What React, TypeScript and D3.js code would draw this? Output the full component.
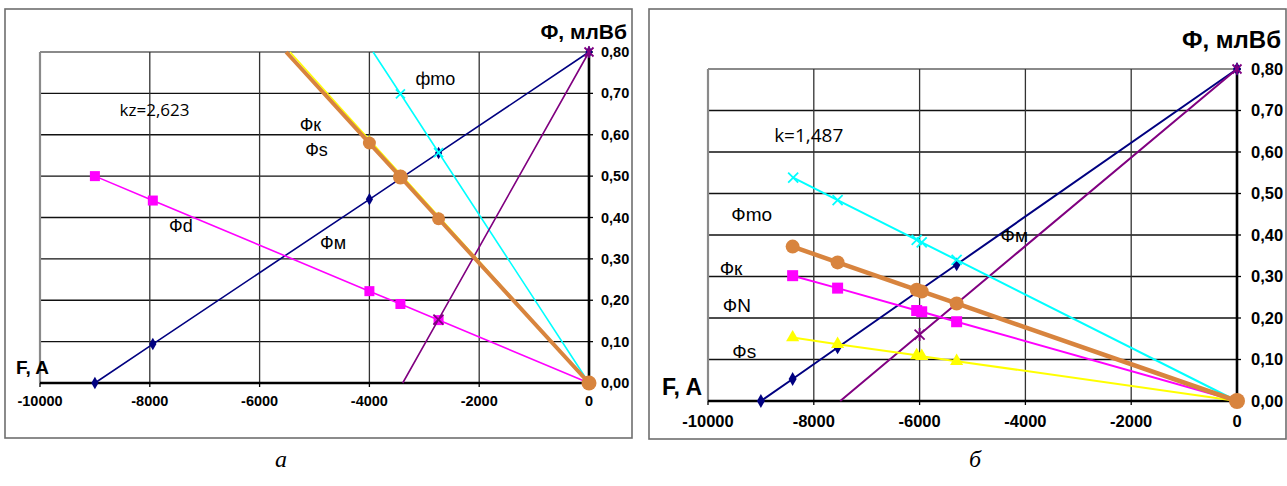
import React from "react";
import * as d3 from "d3";

type Pt = [number, number];

// Figure "а" (kz = 2,623): magnetizing force F, A  vs  flux Ф, mWb
const leftFm: Pt[] = [[-9000, 0], [-7945, 0.094], [-4000, 0.444], [-2740, 0.556], [0, 0.8]];
const leftMag: Pt[] = [[-3393, 0], [-2743, 0.153], [0, 0.8]];
const leftFmo: Pt[] = [[-3933, 0.8], [-3435, 0.699], [-2740, 0.557], [0, 0]];
const leftFd: Pt[] = [[-9000, 0.5], [-7945, 0.441], [-4000, 0.222], [-3435, 0.191], [-2740, 0.152], [0, 0]];
const leftFs: Pt[] = [[-5446, 0.8], [-4000, 0.588], [-3435, 0.505], [-2740, 0.403], [0, 0]];
const leftFk: Pt[] = [[-5517, 0.8], [-4000, 0.58], [-3435, 0.498], [-2740, 0.397], [0, 0]];

// Figure "б" (k = 1,487)
const rightFm: Pt[] = [[-9000, 0], [-8400, 0.053], [-7550, 0.129], [-6000, 0.267], [-5300, 0.329], [0, 0.8]];
const rightMag: Pt[] = [[-7500, 0], [-6000, 0.16], [-5300, 0.235], [0, 0.8]];
const rightFmo: Pt[] = [[-8390, 0.538], [-7550, 0.484], [-6055, 0.388], [-5960, 0.382], [-5300, 0.34], [0, 0]];
const rightFN: Pt[] = [[-8400, 0.302], [-7550, 0.272], [-6055, 0.218], [-5960, 0.215], [-5300, 0.191], [0, 0]];
const rightFs: Pt[] = [[-8400, 0.153], [-7550, 0.137], [-6055, 0.11], [-5960, 0.108], [-5300, 0.096], [0, 0]];
const rightFk: Pt[] = [[-8400, 0.372], [-7550, 0.334], [-6055, 0.268], [-5960, 0.264], [-5300, 0.235], [0, 0]];

const xTicks = [-10000, -8000, -6000, -4000, -2000, 0];
const yTicks = [0, 0.1, 0.2, 0.3, 0.4, 0.5, 0.6, 0.7, 0.8];
const yTitle = "Ф, млВб";
const xTitle = "F, A";

const NAVY = "#000080";
const PURPLE = "#800080";
const CYAN = "#00FFFF";
const MAGENTA = "#FF00FF";
const YELLOW = "#FFFF00";
const ORANGE = "#D8843E";

const SANS = "Liberation Sans, Arial, sans-serif";

type Marker = "diamond" | "square" | "circle" | "triangle" | "x" | "star" | "none";

interface Series {
  data: Pt[];
  color: string;
  width: number;
  marker: Marker;
  size: number;
  skipFirst?: boolean;
  special?: { index: number; marker: Marker; color: string; size: number }[];
}

interface Label {
  text: string;
  x: number; // data coords
  y: number;
  size: number;
  family?: string;
}

interface ChartProps {
  id: string;
  box: [number, number, number, number];
  plot: [number, number, number, number];
  series: Series[];
  labels: Label[];
  tickSize: number;
  yTickOffset: number;
  xTickOffset: number;
  yTitleSize: number;
  xTitleSize: number;
  yTitlePos: [number, number];
  xTitlePos: [number, number];
}

const fmtY = (v: number) => v.toFixed(2).replace(".", ",");

function MarkerShape({ m, x, y, color, size }: { m: Marker; x: number; y: number; color: string; size: number }) {
  if (m === "none") return null;
  if (m === "circle") return <circle cx={x} cy={y} r={size} fill={color} />;
  if (m === "square")
    return <rect x={x - size / 2} y={y - size / 2} width={size} height={size} fill={color} />;
  if (m === "diamond" || m === "triangle") {
    const sym = d3.symbol().type(m === "diamond" ? d3.symbolDiamond : d3.symbolTriangle).size(size)();
    return <path d={sym || ""} transform={`translate(${x},${y})`} fill={color} />;
  }
  const h = size;
  const cross = `M${x - h},${y - h}L${x + h},${y + h}M${x - h},${y + h}L${x + h},${y - h}`;
  const d = m === "star" ? `${cross}M${x},${y - h * 1.3}L${x},${y + h * 1.3}` : cross;
  return <path d={d} stroke={color} strokeWidth={1.8} fill="none" />;
}

function Chart(p: ChartProps) {
  const [bx0, by0, bx1, by1] = p.box;
  const [px0, py0, px1, py1] = p.plot;
  const x = d3.scaleLinear().domain([-10000, 0]).range([px0, px1]);
  const y = d3.scaleLinear().domain([0, 0.8]).range([py1, py0]);
  const line = d3.line<Pt>().x((d) => x(d[0])).y((d) => y(d[1]));
  const clipId = `clip-${p.id}`;

  return (
    <g>
      <rect x={bx0} y={by0} width={bx1 - bx0} height={by1 - by0} fill="#fff" stroke="#6e6e6e" strokeWidth={1.6} />
      <defs>
        <clipPath id={clipId}>
          <rect x={px0 - 12} y={py0 - 12} width={px1 - px0 + 24} height={py1 - py0 + 24} />
        </clipPath>
      </defs>
      {/* grid */}
      {yTicks.map((t) => (
        <line key={`h${t}`} x1={px0} x2={px1} y1={y(t)} y2={y(t)} stroke={t === 0.8 ? "#8a8a8a" : "#111"} strokeWidth={t === 0.8 ? 2.2 : 1.3} />
      ))}
      {xTicks.map((t) => (
        <line key={`v${t}`} x1={x(t)} x2={x(t)} y1={py0} y2={py1} stroke={t === -10000 ? "#8a8a8a" : "#333"} strokeWidth={t === -10000 ? 2.2 : 1.3} />
      ))}
      {/* axes at F = 0 and Ф = 0 */}
      <line x1={x(0)} x2={x(0)} y1={py0} y2={py1 + 1} stroke="#000" strokeWidth={2.6} />
      <line x1={px0} x2={px1} y1={y(0)} y2={y(0)} stroke="#000" strokeWidth={2.6} />
      {xTicks.map((t) => (
        <line key={`xt${t}`} x1={x(t)} x2={x(t)} y1={y(0)} y2={y(0) + 4} stroke="#000" strokeWidth={1.3} />
      ))}
      {yTicks.map((t) => (
        <line key={`yt${t}`} x1={x(0)} x2={x(0) + 4} y1={y(t)} y2={y(t)} stroke="#000" strokeWidth={1.3} />
      ))}
      {/* series */}
      <g clipPath={`url(#${clipId})`}>
        {p.series.map((s, i) => (
          <g key={i}>
            <path d={line(s.data) || ""} fill="none" stroke={s.color} strokeWidth={s.width} strokeLinejoin="round" />
            {s.data.map((d, j) => {
              if (s.skipFirst && j === 0) return null;
              const sp = s.special?.find((q) => q.index === j);
              if (sp) return <MarkerShape key={j} m={sp.marker} x={x(d[0])} y={y(d[1])} color={sp.color} size={sp.size} />;
              return <MarkerShape key={j} m={s.marker} x={x(d[0])} y={y(d[1])} color={s.color} size={s.size} />;
            })}
          </g>
        ))}
      </g>
      {/* tick labels */}
      {yTicks.map((t) => (
        <text key={`yl${t}`} x={x(0) + p.yTickOffset} y={y(t)} dy="0.35em" fontFamily={SANS} fontWeight="bold" fontSize={p.tickSize}>
          {fmtY(t)}
        </text>
      ))}
      {xTicks.map((t) => (
        <text key={`xl${t}`} x={x(t)} y={y(0) + p.xTickOffset} dy="0.35em" textAnchor="middle" fontFamily={SANS} fontWeight="bold" fontSize={p.tickSize}>
          {t}
        </text>
      ))}
      {/* titles */}
      <text x={p.yTitlePos[0]} y={p.yTitlePos[1]} textAnchor="end" fontFamily={SANS} fontWeight="bold" fontSize={p.yTitleSize}>
        {yTitle}
      </text>
      <text x={p.xTitlePos[0]} y={p.xTitlePos[1]} fontFamily={SANS} fontWeight="bold" fontSize={p.xTitleSize}>
        {xTitle}
      </text>
      {/* curve labels */}
      {p.labels.map((l, i) => (
        <text key={i} x={x(l.x)} y={y(l.y)} dy="0.35em" fontFamily={l.family || SANS} fontSize={l.size}>
          {l.text}
        </text>
      ))}
    </g>
  );
}

const leftSeries: Series[] = [
  { data: leftFm, color: NAVY, width: 1.6, marker: "diamond", size: 45 },
  { data: leftFmo, color: CYAN, width: 1.6, marker: "x", size: 4.5, skipFirst: true },
  { data: leftFd, color: MAGENTA, width: 1.6, marker: "square", size: 10 },
  {
    data: leftMag, color: PURPLE, width: 1.6, marker: "none", size: 5,
    special: [{ index: 1, marker: "x", color: PURPLE, size: 5 }, { index: 2, marker: "star", color: PURPLE, size: 4.5 }],
  },
  { data: leftFs, color: YELLOW, width: 1.6, marker: "triangle", size: 30, skipFirst: true },
  {
    data: leftFk, color: ORANGE, width: 4, marker: "circle", size: 6.5, skipFirst: true,
    special: [{ index: 2, marker: "circle", color: ORANGE, size: 7.5 }, { index: 4, marker: "circle", color: ORANGE, size: 7.5 }],
  },
];

const rightSeries: Series[] = [
  { data: rightFm, color: NAVY, width: 2, marker: "diamond", size: 55 },
  {
    data: rightMag, color: PURPLE, width: 2, marker: "none", size: 5,
    special: [{ index: 1, marker: "star", color: PURPLE, size: 5 }, { index: 3, marker: "star", color: PURPLE, size: 4.5 }],
  },
  { data: rightFmo, color: CYAN, width: 2, marker: "x", size: 5 },
  { data: rightFN, color: MAGENTA, width: 2, marker: "square", size: 11 },
  { data: rightFs, color: YELLOW, width: 2, marker: "triangle", size: 75 },
  {
    data: rightFk, color: ORANGE, width: 4.5, marker: "circle", size: 7,
    special: [{ index: 5, marker: "circle", color: ORANGE, size: 8 }],
  },
];

const leftLabels: Label[] = [
  { text: "kz=2,623", x: -8550, y: 0.66, size: 17, family: "Open Sans, sans-serif" },
  { text: "Фк", x: -5270, y: 0.625, size: 18 },
  { text: "Фs", x: -5170, y: 0.565, size: 18 },
  { text: "фmo", x: -3160, y: 0.735, size: 18 },
  { text: "Фd", x: -7650, y: 0.38, size: 18 },
  { text: "Фм", x: -4900, y: 0.34, size: 18 },
];

const rightLabels: Label[] = [
  { text: "k=1,487", x: -8750, y: 0.64, size: 19, family: "Open Sans, sans-serif" },
  { text: "Фmo", x: -9560, y: 0.45, size: 19 },
  { text: "Фк", x: -9780, y: 0.32, size: 19 },
  { text: "ФN", x: -9720, y: 0.23, size: 19 },
  { text: "Фs", x: -9540, y: 0.12, size: 19 },
  { text: "Фм", x: -4470, y: 0.40, size: 19 },
];

export default function App() {
  return (
    <svg width={1287} height={486} style={{ position: "absolute", left: 0, top: 0, background: "#fff" }}>
      <rect width={1287} height={486} fill="#fff" />
      <Chart
        id="a"
        box={[5, 9, 632, 438]}
        plot={[40, 52, 589, 383]}
        series={leftSeries}
        labels={leftLabels}
        tickSize={14.5}
        yTickOffset={12}
        xTickOffset={18}
        yTitleSize={21}
        xTitleSize={19}
        yTitlePos={[627, 39]}
        xTitlePos={[16, 374]}
      />
      <Chart
        id="b"
        box={[649, 9, 1286, 439]}
        plot={[708, 69, 1237, 401]}
        series={rightSeries}
        labels={rightLabels}
        tickSize={16.5}
        yTitleSize={24}
        xTitleSize={23}
        yTitlePos={[1281, 48]}
        xTitlePos={[662, 395]}
        yTickOffset={14}
        xTickOffset={20}
      />
      <text x={281} y={467} textAnchor="middle" fontFamily="Liberation Serif, serif" fontStyle="italic" fontSize={24}>а</text>
      <text x={975} y={467} textAnchor="middle" fontFamily="Liberation Serif, serif" fontStyle="italic" fontSize={24}>б</text>
    </svg>
  );
}
